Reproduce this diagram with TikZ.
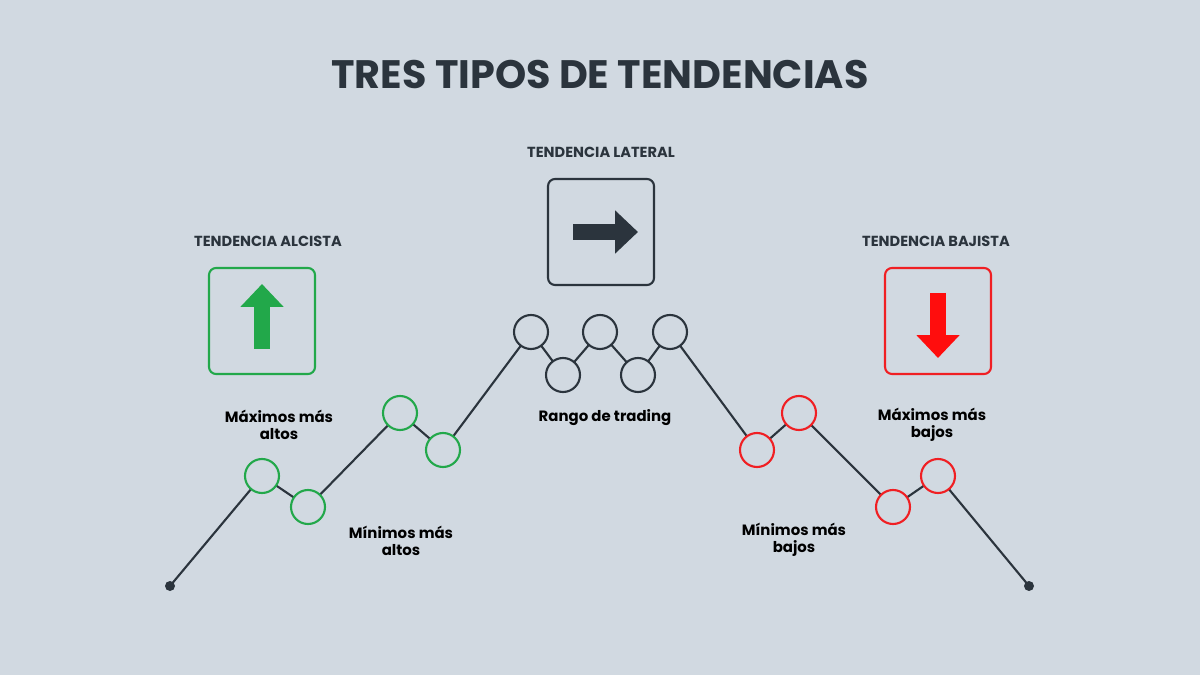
\documentclass[tikz,border=0pt]{standalone}
\usepackage{fontspec}
\setmainfont{Poppins}
\usepackage{tikz}
\usetikzlibrary{arrows.meta}
\definecolor{bgcol}{HTML}{D1D9E1}
\definecolor{ink}{HTML}{2B343D}
\definecolor{upcol}{HTML}{22A84A}
\definecolor{downcol}{HTML}{F01F23}
\definecolor{arrowred}{HTML}{FF0D0D}
\tikzset{
  pt/.style={circle, draw=#1, line width=1.2pt, fill=bgcol, minimum size=0.68cm, inner sep=0pt},
  box/.style={draw=#1, line width=1.2pt, rounded corners=4pt, minimum size=2.12cm},
  head/.style={font=\fontsize{8.3}{10}\selectfont\bfseries, text=ink},
  lbl/.style={font=\fontsize{8.5}{9.5}\selectfont\bfseries, align=center, text=black},
  fatarrow/.style={line width=#1, -{Triangle[width=0.84cm,length=0.46cm]}}
}
\begin{document}
\begin{tikzpicture}[x=0.02cm, y=-0.02cm]
\fill[bgcol] (0,0) rectangle (1200,675);
\useasboundingbox (0,0) rectangle (1200,675);

\node[font=\fontsize{22.6}{26}\selectfont\bfseries, text=ink] (title) at (600,75) {TRES TIPOS DE TENDENCIAS};

% headings and boxes
\node[head] (hup) at (268,241) {TENDENCIA ALCISTA};
\node[head] (hside) at (601,152) {TENDENCIA LATERAL};
\node[head] (hdown) at (936,241) {TENDENCIA BAJISTA};
\node[box=upcol] (bup) at (262,321) {};
\node[box=ink] (bside) at (601,232) {};
\node[box=downcol] (bdown) at (938,321) {};
\draw[fatarrow=0.32cm, upcol] (262,349) -- (262,284);
\draw[fatarrow=0.32cm, ink] (573,232) -- (638,232);
\draw[fatarrow=0.32cm, arrowred] (938,293) -- (938,358);

% price path
\fill[ink] (170,586) circle (5) coordinate (start);
\fill[ink] (1029,586) circle (5) coordinate (stop);
\draw[ink, line width=1.2pt] (start) -- (262,476) -- (308,507) -- (400,413) -- (443,450)
  -- (531,332) -- (563,375) -- (600,332) -- (638,375) -- (670,332)
  -- (757,450) -- (799,413) -- (893,507) -- (938,476) -- (stop);
\foreach \x/\y [count=\i] in {262/476, 308/507, 400/413, 443/450}
  \node[pt=upcol] (g\i) at (\x,\y) {};
\foreach \x/\y [count=\i] in {531/332, 563/375, 600/332, 638/375, 670/332}
  \node[pt=ink] (s\i) at (\x,\y) {};
\foreach \x/\y [count=\i] in {757/450, 799/413, 893/507, 938/476}
  \node[pt=downcol] (r\i) at (\x,\y) {};

% labels
\node[lbl] (maxup) at (279,425) {Máximos más\\altos};
\node[lbl] (minup) at (401,541) {Mínimos más\\altos};
\node[lbl] (range) at (605,418) {Rango de trading};
\node[lbl] (mindown) at (794,540) {Mínimos más\\bajos};
\node[lbl] (maxdown) at (932,425) {Máximos más\\bajos};
\end{tikzpicture}
\end{document}
